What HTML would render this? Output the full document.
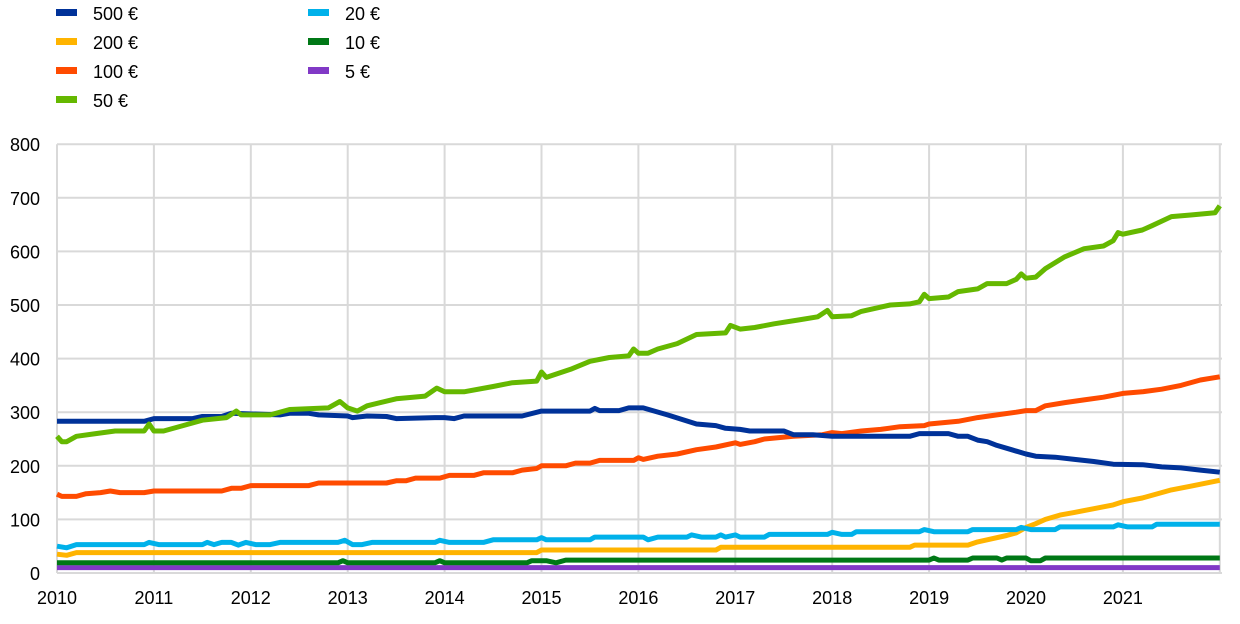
<!DOCTYPE html>
<html><head><meta charset="utf-8"><style>
body{margin:0;background:#fff;}
svg text{font-family:"Liberation Sans",Arial,sans-serif;font-size:18px;fill:#000;}
</style></head><body>
<svg id="s" width="1240" height="619" xmlns="http://www.w3.org/2000/svg">
<g id="grid" stroke="#d9d9d9" stroke-width="2"></g>
<g id="lab"></g>
<g id="ser" fill="none" stroke-width="5" stroke-linejoin="round"></g>
<g id="leg"></g>
</svg>
<script>
const X0=57,XW=96.9,Y0=573,YS=0.536;
const X=t=>X0+t*XW, Y=v=>Y0-v*YS;
const ns="http://www.w3.org/2000/svg";
function el(p,tag,a,txt){const e=document.createElementNS(ns,tag);for(const k in a)e.setAttribute(k,a[k]);if(txt!==undefined)e.textContent=txt;document.getElementById(p).appendChild(e);}
for(let v=0;v<=800;v+=100){el("grid","line",{x1:X0,x2:1222,y1:Y(v),y2:Y(v)});el("lab","text",{x:40,y:Y(v)+7,"text-anchor":"end"},v);}
for(let i=0;i<=12;i++){el("grid","line",{x1:X(i),x2:X(i),y1:Y(800),y2:Y(0)});if(i<12)el("lab","text",{x:X(i),y:604,"text-anchor":"middle"},2010+i);}
const S={
"#65b800":[[0,255],[0.05,245],[0.1,245],[0.2,255],[0.4,260],[0.6,265],[0.9,265],[0.95,278],[1.0,265],[1.1,265],[1.3,275],[1.5,285],[1.75,290],[1.85,302],[1.9,295],[2.2,295],[2.4,305],[2.8,308],[2.92,320],[3.0,308],[3.1,302],[3.2,312],[3.5,325],[3.8,330],[3.92,345],[4.0,338],[4.2,338],[4.5,348],[4.7,355],[4.95,358],[5.0,375],[5.05,365],[5.3,380],[5.5,395],[5.7,402],[5.9,405],[5.95,418],[6.0,410],[6.1,410],[6.2,418],[6.4,428],[6.6,445],[6.9,448],[6.95,462],[7.05,455],[7.2,458],[7.4,465],[7.65,472],[7.85,478],[7.95,490],[8.0,478],[8.2,480],[8.3,488],[8.6,500],[8.8,502],[8.9,506],[8.95,520],[9.0,512],[9.2,515],[9.3,525],[9.5,530],[9.6,540],[9.8,540],[9.9,548],[9.95,558],[10.0,550],[10.1,552],[10.2,568],[10.4,590],[10.6,605],[10.8,610],[10.9,620],[10.95,635],[11.0,632],[11.2,640],[11.3,648],[11.5,665],[11.7,668],[11.95,672],[12.0,685]],
"#003299":[[0,283],[0.9,283],[1.0,288],[1.4,288],[1.5,292],[1.7,292],[1.8,298],[2.3,295],[2.4,298],[2.6,298],[2.7,295],[3.0,293],[3.05,290],[3.2,293],[3.4,292],[3.5,288],[3.9,290],[4.0,290],[4.1,288],[4.2,293],[4.8,293],[5.0,302],[5.5,302],[5.55,307],[5.6,303],[5.8,303],[5.9,308],[6.05,308],[6.3,295],[6.6,278],[6.8,275],[6.9,270],[7.05,268],[7.15,265],[7.5,265],[7.6,258],[7.8,258],[8.0,255],[8.8,255],[8.9,260],[9.2,260],[9.3,255],[9.4,255],[9.5,248],[9.6,245],[9.7,238],[9.85,230],[10.0,222],[10.1,218],[10.3,216],[10.5,212],[10.7,208],[10.9,203],[11.2,202],[11.4,198],[11.6,196],[11.8,192],[12.0,188]],
"#ff4b00":[[0,147],[0.05,143],[0.2,143],[0.3,148],[0.45,150],[0.55,153],[0.65,150],[0.9,150],[1.0,153],[1.7,153],[1.8,158],[1.9,158],[2.0,163],[2.6,163],[2.7,168],[3.4,168],[3.5,172],[3.6,172],[3.7,177],[3.95,177],[4.05,182],[4.3,182],[4.4,187],[4.7,187],[4.8,192],[4.95,195],[5.0,200],[5.25,200],[5.35,205],[5.5,205],[5.6,210],[5.95,210],[6.0,215],[6.05,212],[6.2,218],[6.4,222],[6.6,230],[6.8,235],[7.0,243],[7.05,240],[7.2,245],[7.3,250],[7.6,255],[7.9,258],[8.0,262],[8.1,260],[8.3,265],[8.5,268],[8.7,273],[8.95,275],[9.0,278],[9.3,283],[9.5,290],[9.7,295],[9.9,300],[10.0,303],[10.1,303],[10.2,312],[10.4,318],[10.6,323],[10.8,328],[11.0,335],[11.2,338],[11.4,343],[11.6,350],[11.8,360],[12.0,366]],
"#ffb400":[[0,35],[0.1,33],[0.2,38],[4.95,38],[5.0,43],[6.8,43],[6.85,48],[8.8,48],[8.85,52],[9.4,52],[9.5,58],[9.6,62],[9.8,70],[9.9,75],[10.0,85],[10.1,92],[10.2,100],[10.35,108],[10.5,113],[10.7,120],[10.9,127],[11.0,133],[11.2,140],[11.5,155],[11.7,162],[12.0,173]],
"#00b1ea":[[0,50],[0.1,47],[0.2,53],[0.9,53],[0.95,57],[1.05,53],[1.5,53],[1.55,57],[1.62,53],[1.7,57],[1.8,57],[1.87,52],[1.95,57],[2.05,53],[2.2,53],[2.3,57],[2.9,57],[2.97,61],[3.05,53],[3.15,53],[3.25,57],[3.9,57],[3.95,61],[4.05,57],[4.4,57],[4.5,62],[4.95,62],[5.0,66],[5.05,62],[5.5,62],[5.55,67],[6.05,67],[6.1,62],[6.2,67],[6.5,67],[6.55,71],[6.65,67],[6.8,67],[6.85,71],[6.9,67],[7.0,71],[7.05,67],[7.3,67],[7.35,72],[7.95,72],[8.0,76],[8.1,72],[8.2,72],[8.25,77],[8.9,77],[8.95,81],[9.05,77],[9.4,77],[9.45,81],[9.9,81],[9.95,85],[10.05,81],[10.3,81],[10.35,86],[10.9,86],[10.95,90],[11.05,86],[11.3,86],[11.35,91],[12,91]],
"#007816":[[0,19],[2.9,19],[2.95,23],[3.0,19],[3.9,19],[3.95,23],[4.0,19],[4.85,19],[4.9,23],[5.05,23],[5.15,19],[5.25,24],[9.0,24],[9.05,28],[9.1,24],[9.4,24],[9.45,28],[9.7,28],[9.75,24],[9.8,28],[10,28],[10.05,23],[10.15,23],[10.2,28],[12,28]],
"#8139c6":[[0,10],[12,10]]};
const order=["#8139c6","#007816","#ffb400","#00b1ea","#ff4b00","#003299","#65b800"];
for(const c of order){el("ser","polyline",{stroke:c,points:S[c].map(p=>X(p[0]).toFixed(1)+","+Y(p[1]).toFixed(1)).join(" ")});}
const L=[["#003299","500  €",56,13],["#ffb400","200  €",56,42],["#ff4b00","100  €",56,71],["#65b800","50 €",56,100],["#00b1ea","20 €",308,13],["#007816","10 €",308,42],["#8139c6","5 €",308,71]];
for(const [c,t,x,y] of L){el("leg","rect",{x:x,y:y-4,width:21,height:7,fill:c});el("leg","text",{x:x+37,y:y+7,"xml:space":"preserve"},t);}
</script>
</body></html>
